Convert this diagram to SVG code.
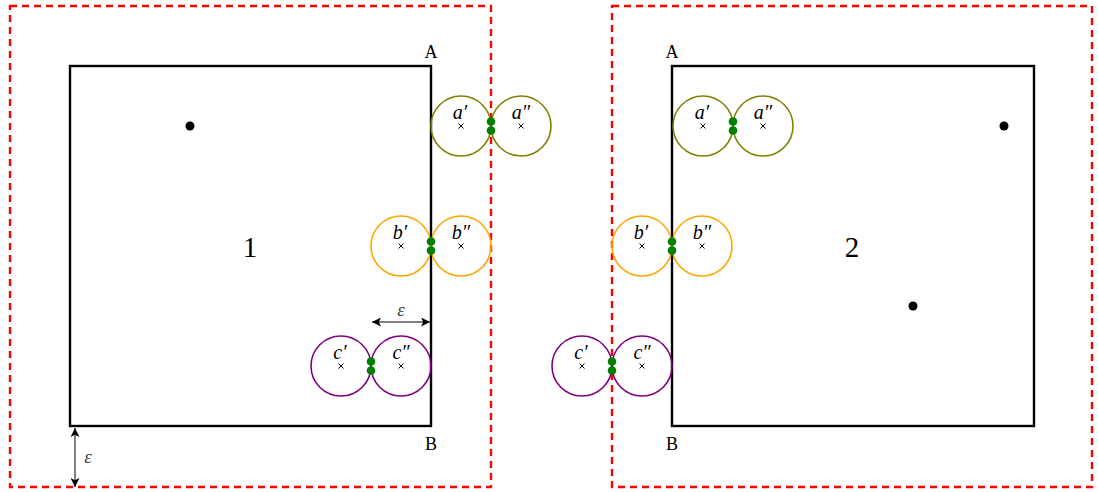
<svg xmlns="http://www.w3.org/2000/svg" width="1098" height="492" viewBox="0 0 1098 492">
<defs>
<style>
.sq{fill:none;stroke:#000;stroke-width:2.4}
.red{fill:none;stroke:#ff0000;stroke-width:2.4;stroke-dasharray:7,5}
.olive{fill:none;stroke:#808000;stroke-width:1.6}
.orange{fill:none;stroke:#ffa500;stroke-width:1.6}
.purple{fill:none;stroke:#800080;stroke-width:1.6}
.g{fill:#008000}
.x{stroke:#000;stroke-width:1}
.lbl{font-family:"Liberation Serif","DejaVu Serif",serif;font-size:20px;font-style:italic;text-anchor:middle;fill:#000}
.pt{font-family:"Liberation Serif","DejaVu Serif",serif;font-size:18px;text-anchor:middle;fill:#000}
.big{font-family:"Liberation Serif","DejaVu Serif",serif;font-size:29px;text-anchor:middle;fill:#000}
.eps{font-family:"Liberation Serif","DejaVu Serif",serif;font-size:19px;font-style:italic;text-anchor:middle;fill:#444}
.arr{stroke:#000;stroke-width:1;fill:none}
</style>
<marker id="ah" viewBox="0 0 10 10" refX="10" refY="5" markerWidth="9" markerHeight="9" markerUnits="userSpaceOnUse" orient="auto-start-reverse">
<path d="M0,0 L10,5 L0,10 L2.5,5 Z" fill="#000"/>
</marker>
<g id="xm"><line class="x" x1="-2.5" y1="-2.5" x2="2.5" y2="2.5"/><line class="x" x1="-2.5" y1="2.5" x2="2.5" y2="-2.5"/></g>
</defs>
<rect width="1098" height="492" fill="#fff"/>

<g id="region1">
<rect class="red" x="10" y="6" width="481" height="481"/>
</g>
<g id="region2">
<rect class="red" x="612" y="6" width="480" height="481"/>
</g>

<g id="square1">
<rect class="sq" x="70" y="66" width="361" height="360"/>
<text class="big" x="250" y="257">1</text>
<circle cx="190" cy="126" r="4.5" fill="#000"/>
<text class="pt" x="431" y="58">A</text>
<text class="pt" x="431" y="450">B</text>
</g>
<g id="square2">
<rect class="sq" x="672" y="66" width="362" height="360"/>
<text class="big" x="852" y="257">2</text>
<circle cx="1004" cy="126" r="4.5" fill="#000"/>
<circle cx="913" cy="306" r="4.5" fill="#000"/>
<text class="pt" x="672" y="58">A</text>
<text class="pt" x="672" y="450">B</text>
</g>

<g id="pair-a-1">
<circle class="olive" cx="461" cy="126" r="30"/>
<circle class="olive" cx="521" cy="126" r="30"/>
<text class="lbl" x="460" y="119">a′</text>
<text class="lbl" x="521" y="119">a″</text>
<use href="#xm" x="461" y="126"/>
<use href="#xm" x="521" y="126"/>
<circle class="g" cx="491" cy="121.5" r="4.3"/>
<circle class="g" cx="491" cy="130.5" r="4.3"/>
</g>
<g id="pair-b-1">
<circle class="orange" cx="401" cy="246" r="30"/>
<circle class="orange" cx="461" cy="246" r="30"/>
<text class="lbl" x="400" y="239">b′</text>
<text class="lbl" x="461" y="239">b″</text>
<use href="#xm" x="401" y="246"/>
<use href="#xm" x="461" y="246"/>
<circle class="g" cx="431" cy="241.5" r="4.3"/>
<circle class="g" cx="431" cy="250.5" r="4.3"/>
</g>
<g id="pair-c-1">
<circle class="purple" cx="341" cy="366" r="30"/>
<circle class="purple" cx="401" cy="366" r="30"/>
<text class="lbl" x="340" y="359">c′</text>
<text class="lbl" x="401" y="359">c″</text>
<use href="#xm" x="341" y="366"/>
<use href="#xm" x="401" y="366"/>
<circle class="g" cx="371" cy="361.5" r="4.3"/>
<circle class="g" cx="371" cy="370.5" r="4.3"/>
</g>

<g id="pair-a-2">
<circle class="olive" cx="703" cy="126" r="30"/>
<circle class="olive" cx="763" cy="126" r="30"/>
<text class="lbl" x="702" y="119">a′</text>
<text class="lbl" x="763" y="119">a″</text>
<use href="#xm" x="703" y="126"/>
<use href="#xm" x="763" y="126"/>
<circle class="g" cx="733" cy="121.5" r="4.3"/>
<circle class="g" cx="733" cy="130.5" r="4.3"/>
</g>
<g id="pair-b-2">
<circle class="orange" cx="642" cy="246" r="30"/>
<circle class="orange" cx="702" cy="246" r="30"/>
<text class="lbl" x="641" y="239">b′</text>
<text class="lbl" x="702" y="239">b″</text>
<use href="#xm" x="642" y="246"/>
<use href="#xm" x="702" y="246"/>
<circle class="g" cx="672" cy="241.5" r="4.3"/>
<circle class="g" cx="672" cy="250.5" r="4.3"/>
</g>
<g id="pair-c-2">
<circle class="purple" cx="582" cy="366" r="30"/>
<circle class="purple" cx="642" cy="366" r="30"/>
<text class="lbl" x="581" y="359">c′</text>
<text class="lbl" x="642" y="359">c″</text>
<use href="#xm" x="582" y="366"/>
<use href="#xm" x="642" y="366"/>
<circle class="g" cx="612" cy="361.5" r="4.3"/>
<circle class="g" cx="612" cy="370.5" r="4.3"/>
</g>

<g id="connectors">
<line class="arr" x1="372" y1="322" x2="430" y2="322" marker-start="url(#ah)" marker-end="url(#ah)"/>
<line class="arr" x1="75" y1="428" x2="75" y2="487" marker-start="url(#ah)" marker-end="url(#ah)"/>
</g>
<text class="eps" x="401" y="316">ε</text>
<text class="eps" x="88" y="463">ε</text>
</svg>
